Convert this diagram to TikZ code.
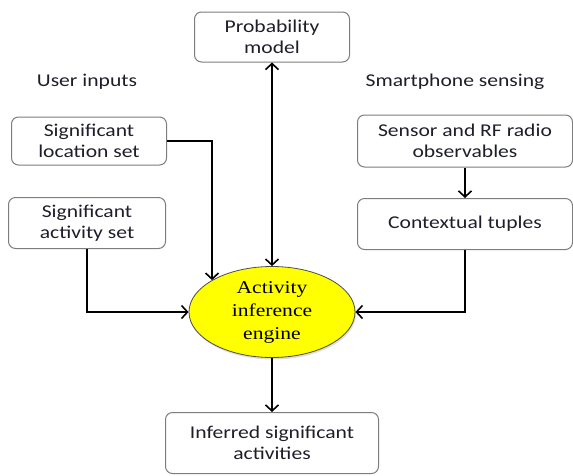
\documentclass[tikz,border=0pt]{standalone}
\usepackage{fontspec}
\setmainfont[FakeStretch=1.2]{Carlito}
\newfontfamily\enginefont[FakeStretch=1.2]{Liberation Serif}
\usetikzlibrary{shapes.geometric}
\usetikzlibrary{arrows.meta}
\usetikzlibrary{shadows}
\definecolor{boxgray}{RGB}{125,125,125}
\definecolor{engineyellow}{RGB}{255,255,0}
\definecolor{inktext}{RGB}{30,30,42}

\begin{document}
\begin{tikzpicture}[x=1pt,y=-1pt,
	>={Straight Barb[length=6pt,width=13pt,line width=1.6pt]},
	block/.style={draw=boxgray, line width=1pt, rounded corners=7pt, align=center, inner sep=0pt, text=inktext, font=\fontsize{18}{21}\selectfont},
	headtext/.style={text=inktext, font=\fontsize{18}{21}\selectfont},
	engine/.style={ellipse, draw=black!70, line width=0.8pt, fill=engineyellow, minimum width=166pt, minimum height=91pt, inner sep=0pt, align=center, font=\enginefont\fontsize{18}{23}\selectfont, drop shadow={shadow xshift=1pt, shadow yshift=-2pt, opacity=0.25}},
	flow/.style={line width=1.4pt, ->}]

	\useasboundingbox (0,0) rectangle (573,475);

	% top model
	\node[block, minimum width=155pt, minimum height=50pt] (prob) at (272,37) {Probability\\model};

	% group titles
	\node[headtext] (user) at (87,82) {User inputs};
	\node[headtext] (phone) at (455,82) {Smartphone sensing};

	% user inputs
	\node[block, minimum width=155pt, minimum height=48pt] (loc) at (89,141) {Significant\\location set};
	\node[block, minimum width=157pt, minimum height=51pt] (act) at (87,223) {Significant\\activity set};

	% smartphone sensing
	\node[block, minimum width=215pt, minimum height=52pt] (sensor) at (465,141) {Sensor and RF radio\\observables};
	\node[block, minimum width=215pt, minimum height=51pt] (tuples) at (465,224) {Contextual tuples};

	% engine and output
	\node[engine] (engine) at (272,312) {Activity\\inference\\engine};
	\node[block, minimum width=213pt, minimum height=61pt] (out) at (272,443) {Inferred significant\\activities};

	\draw[flow, <->] (prob) -- (engine);
	\draw[flow] (loc.east) -| (engine.152);
	\draw[flow] (act.south) |- (engine.west);
	\draw[flow] (sensor) -- (tuples);
	\draw[flow] (tuples.south) |- (engine.east);
	\draw[flow] (engine) -- (out);
\end{tikzpicture}
\end{document}
